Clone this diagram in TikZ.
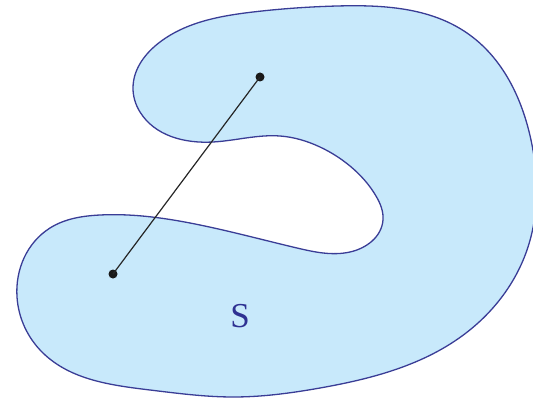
\documentclass[tikz,border=0pt]{standalone}
\usepackage{fontspec}
\setmainfont{Liberation Serif}
\usetikzlibrary{hobby}
\definecolor{setfill}{HTML}{C8E9FB}
\definecolor{setedge}{HTML}{3A3D96}
\definecolor{labelblue}{HTML}{2E3192}
\tikzset{
  region/.style={fill=setfill, draw=setedge, line width=1.3pt},
  dotpt/.style={circle, fill=black!90, inner sep=0pt, minimum size=9pt},
  segment/.style={draw=black!85, line width=1.2pt},
  setlabel/.style={text=labelblue, font=\fontsize{35}{40}\selectfont}
}
\begin{document}
\begin{tikzpicture}[x=1pt,y=-1pt]
\useasboundingbox (0,0) rectangle (533,401);
\draw[region, use Hobby shortcut, closed=true]
 (337,6) .. (467,33) .. (531,140) .. (527,250) .. (462,336) .. (320,388)
 .. (233,397) .. (150,390) .. (43,353) .. (17,297) .. (50,228) .. (100,215)
 .. (200,225) .. (297,248) .. (350,252) .. (383,220) .. (376,196)
 .. (350,166) .. (320,147) .. (280,136) .. (213,142)
 .. (140,112) .. (133,87) .. (160,42) .. (253,12);
\node[dotpt] (p) at (260,77) {};
\node[dotpt] (q) at (113,274) {};
\draw[segment] (p.center) -- (q.center);
\node[setlabel] (s) at (240,316) {S};
\end{tikzpicture}
\end{document}
